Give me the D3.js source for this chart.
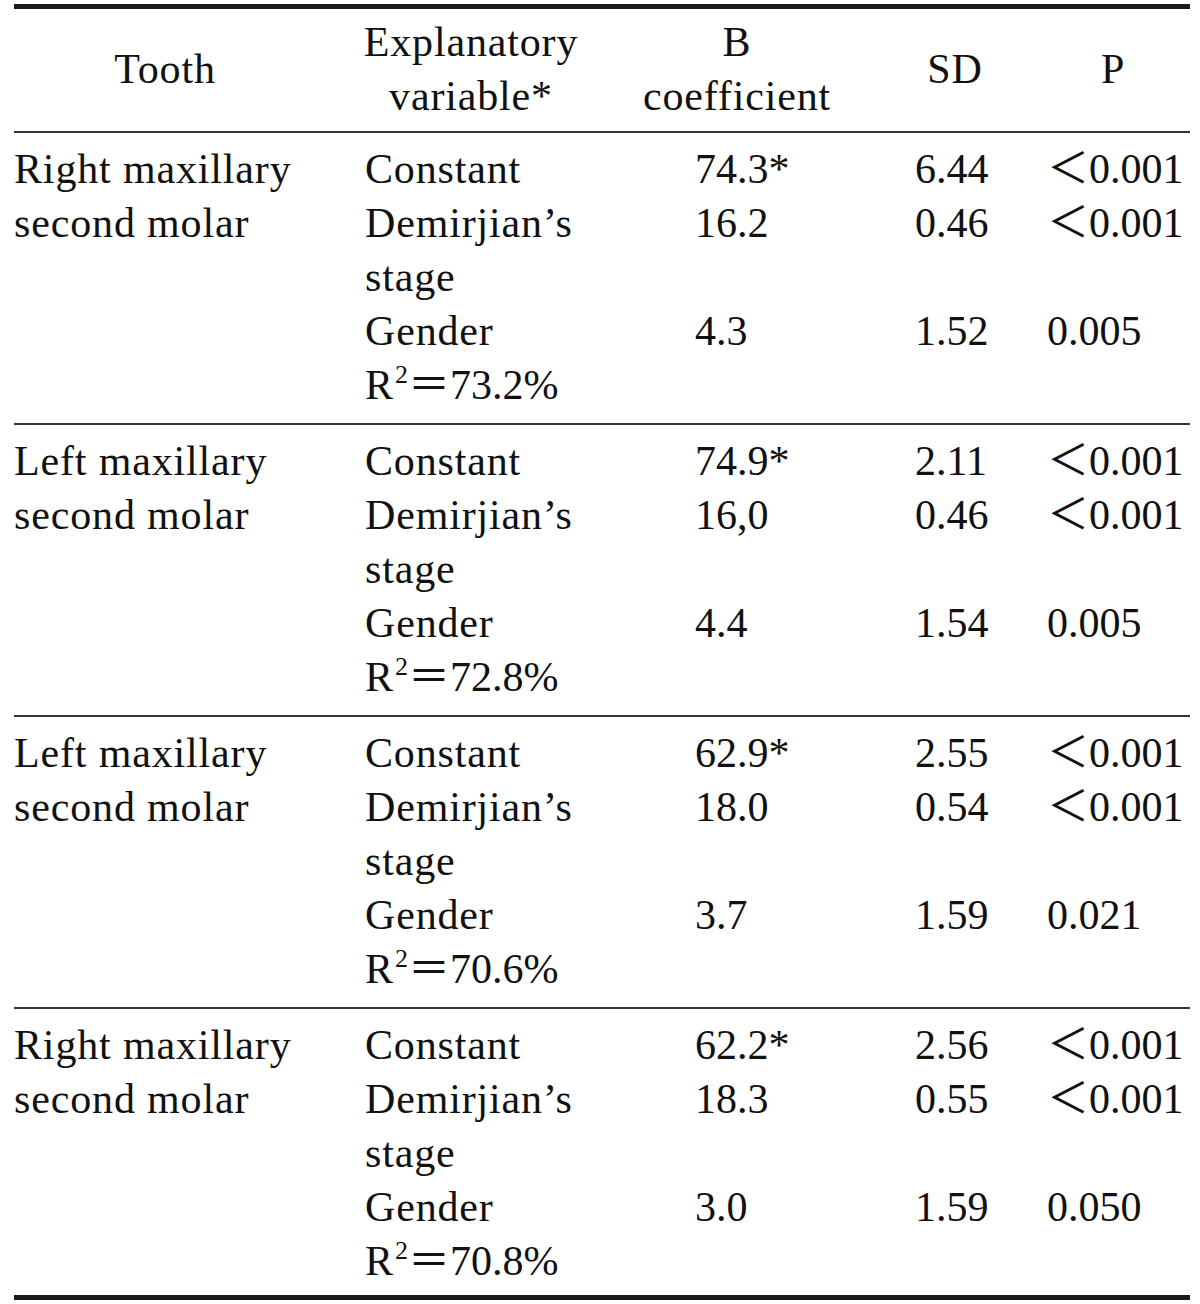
<!DOCTYPE html>
<html>
<head>
<meta charset="utf-8">
<script src="https://cdn.jsdelivr.net/npm/d3@7"></script>
<style>
  html, body { margin: 0; padding: 0; background: #fff; }
  svg text { font-family: "Liberation Serif", "Noto Sans CJK SC", serif; font-size: 42px; fill: #111; }
  svg text.word { letter-spacing: 0.85px; }
</style>
</head>
<body>
<svg id="chart" width="1200" height="1304"></svg>
<script>
// ---- data ----
const headers = [
  ["Tooth"],
  ["Explanatory", "variable*"],
  ["B", "coefficient"],
  ["SD"],
  ["P"]
];
const teeth = [
  ["Right maxillary", "second molar"],
  ["Left maxillary", "second molar"],
  ["Left maxillary", "second molar"],
  ["Right maxillary", "second molar"]
];
const variables = [["Constant"], ["Demirjian’s", "stage"], ["Gender"]];
const bCoef = [
  ["74.3*", "16.2", "4.3"],
  ["74.9*", "16,0", "4.4"],
  ["62.9*", "18.0", "3.7"],
  ["62.2*", "18.3", "3.0"]
];
const sdVals = [
  ["6.44", "0.46", "1.52"],
  ["2.11", "0.46", "1.54"],
  ["2.55", "0.54", "1.59"],
  ["2.56", "0.55", "1.59"]
];
const pVals = [
  ["＜0.001", "＜0.001", "0.005"],
  ["＜0.001", "＜0.001", "0.005"],
  ["＜0.001", "＜0.001", "0.021"],
  ["＜0.001", "＜0.001", "0.050"]
];
const r2 = ["73.2%", "72.8%", "70.6%", "70.8%"];

// ---- layout ----
const svg = d3.select("#chart");
const left = 14, right = 1190;
const colLeft = [14, 365, 695, 915, 1047];
const colCenter = [165, 471, 737, 955, 1113];
const headerRule = 132;
const groupH = 292;
const lineH = 54;
const firstBase = 51;   // from group rule to first baseline

const groupY = d3.scaleLinear().domain([0, 1]).range([headerRule, headerRule + groupH]);
const lineY = (g, l) => groupY(g) + firstBase + l * lineH;

// rules
svg.append("rect").attr("x", left).attr("y", 4).attr("width", right - left).attr("height", 5).attr("fill", "#1a1a1a");
d3.range(teeth.length).forEach(g => {
  svg.append("rect").attr("x", left).attr("y", groupY(g) - 1).attr("width", right - left).attr("height", 2).attr("fill", "#333");
});
svg.append("rect").attr("x", left).attr("y", groupY(teeth.length) - 5).attr("width", right - left).attr("height", 5).attr("fill", "#1a1a1a");

// headers
headers.forEach((h, i) => {
  const bases = h.length === 1 ? [83] : [56, 110];
  h.forEach((t, j) => {
    svg.append("text").attr("class", "word").attr("x", colCenter[i]).attr("y", bases[j]).attr("text-anchor", "middle").text(t);
  });
});

// body
const varLines = [0, 1, 3];
teeth.forEach((tooth, g) => {
  tooth.forEach((t, j) => svg.append("text").attr("class", "word").attr("x", colLeft[0]).attr("y", lineY(g, j)).text(t));
  variables.forEach((v, k) => {
    v.forEach((t, j) => svg.append("text").attr("class", "word").attr("x", colLeft[1]).attr("y", lineY(g, varLines[k] + j)).text(t));
  });
  [bCoef, sdVals, pVals].forEach((arr, c) => {
    arr[g].forEach((t, k) => {
      svg.append("text").attr("x", colLeft[c + 2]).attr("y", lineY(g, varLines[k])).text(t);
    });
  });
  const rt = svg.append("text").attr("x", colLeft[1]).attr("y", lineY(g, 4));
  rt.append("tspan").text("R");
  rt.append("tspan").attr("dx", 2).attr("dy", -16).style("font-size", "26px").text("2");
  rt.append("tspan").attr("dy", 16).text("＝" + r2[g]);
});
</script>
</body>
</html>
